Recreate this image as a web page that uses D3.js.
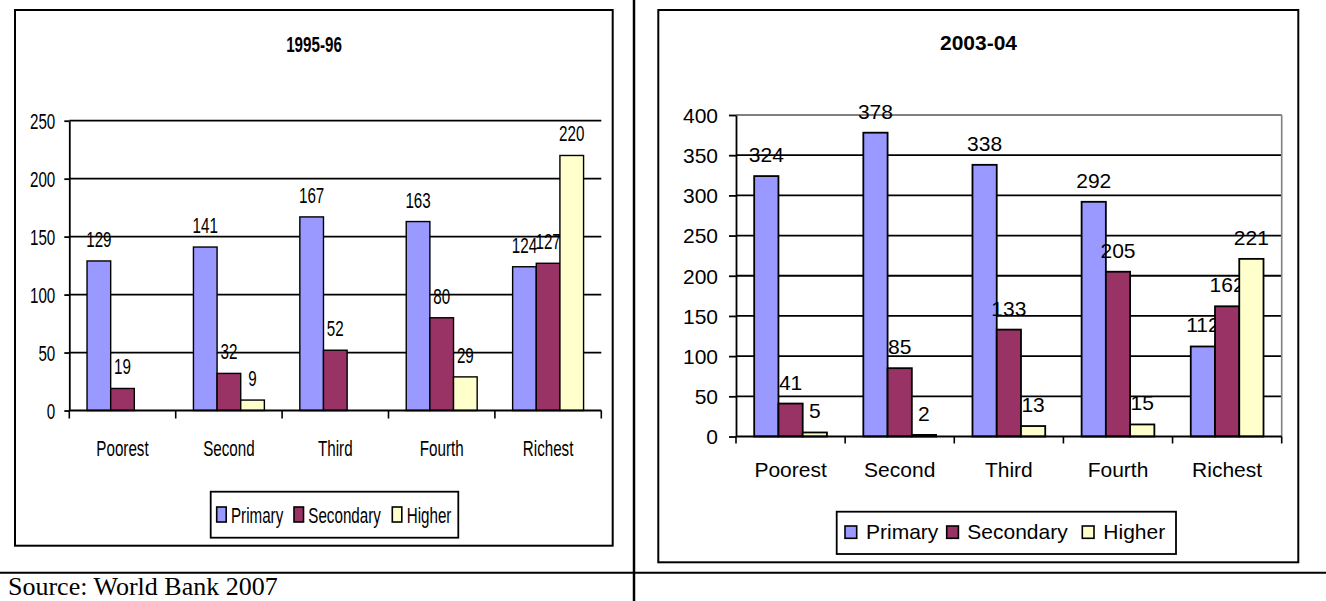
<!DOCTYPE html>
<html>
<head>
<meta charset="utf-8">
<script src="https://cdn.jsdelivr.net/npm/d3@7"></script>
<style>
  html, body { margin: 0; padding: 0; background: #fff; }
  svg { display: block; }
</style>
</head>
<body>
<svg id="chart" width="1326" height="601"></svg>
<script>
// ---------------- DATA ----------------
const categories = ["Poorest", "Second", "Third", "Fourth", "Richest"];
const seriesNames = ["Primary", "Secondary", "Higher"];
const seriesColors = ["#9999FF", "#993366", "#FFFFCC"];

const title9596 = "1995-96";
const primary9596 = [129, 141, 167, 163, 124];
const secondary9596 = [19, 32, 52, 80, 127];
const higher9596 = [null, 9, null, 29, 220];
const ticks9596 = [0, 50, 100, 150, 200, 250];

const title0304 = "2003-04";
const primary0304 = [324, 378, 338, 292, 112];
const secondary0304 = [41, 85, 133, 205, 162];
const higher0304 = [5, 2, 13, 15, 221];
const ticks0304 = [0, 50, 100, 150, 200, 250, 300, 350, 400];

const sourceText = "Source: World Bank 2007";

// ---------------- DRAW ----------------
const svg = d3.select("#chart");
const FONT = "'Liberation Sans', Arial, Helvetica, sans-serif";

// page table lines
svg.append("line").attr("x1", 634).attr("x2", 634).attr("y1", 0).attr("y2", 601)
  .attr("stroke", "#000").attr("stroke-width", 2.5);
svg.append("line").attr("x1", 0).attr("x2", 1326).attr("y1", 572.7).attr("y2", 572.7)
  .attr("stroke", "#000").attr("stroke-width", 2);
svg.append("text").attr("x", 8).attr("y", 595)
  .attr("font-family", "'Liberation Serif', 'Times New Roman', serif")
  .attr("font-size", 26).attr("fill", "#000").text(sourceText);

function drawChart(cfg) {
  const g = svg.append("g");
  const sx = cfg.sx;
  const txt = (sel, x, y) => sel.attr("transform", `translate(${x},${y}) scale(${sx},1)`);

  // frame
  g.append("rect").attr("x", cfg.frame[0]).attr("y", cfg.frame[1])
    .attr("width", cfg.frame[2] - cfg.frame[0]).attr("height", cfg.frame[3] - cfg.frame[1])
    .attr("fill", "#fff").attr("stroke", "#000").attr("stroke-width", 2);

  // title
  txt(g.append("text"), cfg.titleX, cfg.titleY)
    .attr("text-anchor", "middle").attr("font-family", FONT).attr("font-weight", "bold")
    .attr("font-size", cfg.font).text(cfg.title);

  const x = d3.scaleBand().domain(cfg.categories).range([cfg.px0, cfg.px1]).paddingInner(0).paddingOuter(0);
  const y = d3.scaleLinear().domain([0, cfg.ticks[cfg.ticks.length - 1]]).range([cfg.py0, cfg.py1]);
  const barW = x.bandwidth() / 4.5;
  const off = (x.bandwidth() - 3 * barW) / 2;

  // gridlines
  g.append("g").selectAll("line").data(cfg.ticks.filter(t => t > 0)).join("line")
    .attr("x1", cfg.px0).attr("x2", cfg.px1)
    .attr("y1", d => y(d)).attr("y2", d => y(d))
    .attr("stroke", d => (cfg.plotBorder && d === cfg.ticks[cfg.ticks.length - 1]) ? "#808080" : "#000")
    .attr("stroke-width", 1.8);
  if (cfg.plotBorder) {
    g.append("line").attr("x1", cfg.px1).attr("x2", cfg.px1).attr("y1", cfg.py1).attr("y2", cfg.py0)
      .attr("stroke", "#808080").attr("stroke-width", 1.6);
  }

  // bars
  const series = cfg.series;
  series.forEach((vals, si) => {
    const data = vals.map((v, i) => ({ c: cfg.categories[i], v })).filter(d => d.v !== null);
    g.append("g").selectAll("rect").data(data).join("rect")
      .attr("x", d => x(d.c) + off + si * barW)
      .attr("y", d => y(d.v))
      .attr("width", barW)
      .attr("height", d => y(0) - y(d.v))
      .attr("fill", seriesColors[si]).attr("stroke", "#000").attr("stroke-width", cfg.barStroke);
    g.append("g").selectAll("text").data(data).join("text")
      .each(function (d) {
        txt(d3.select(this), x(d.c) + off + si * barW + barW / 2, y(d.v) - cfg.labelGap);
      })
      .attr("text-anchor", "middle").attr("font-family", FONT).attr("font-size", cfg.font)
      .attr("fill", "#000").text(d => d.v);
  });

  // y axis
  const yAxis = g.append("g").attr("transform", `translate(${cfg.px0},0)`)
    .call(d3.axisLeft(y).tickValues(cfg.ticks).tickSizeInner(cfg.tickLen).tickSizeOuter(0).tickPadding(cfg.yPad));
  yAxis.select(".domain").attr("stroke", "#000").attr("stroke-width", 1.8);
  yAxis.selectAll(".tick line").attr("stroke", "#000").attr("stroke-width", 1.8);
  yAxis.selectAll(".tick text").each(function () {
    const t = d3.select(this);
    const xx = +t.attr("x");
    t.attr("x", 0).attr("transform", `translate(${xx},0) scale(${sx},1)`);
  }).attr("font-family", FONT).attr("font-size", cfg.font).attr("fill", "#000").attr("dy", "0.35em");

  // x axis line
  g.append("line").attr("x1", cfg.px0).attr("x2", cfg.px1).attr("y1", y(0)).attr("y2", y(0))
    .attr("stroke", "#000").attr("stroke-width", 1.8);
  // boundary ticks
  const bounds = d3.range(cfg.categories.length + 1).map(i => cfg.px0 + i * x.step());
  g.append("g").selectAll("line").data(bounds).join("line")
    .attr("x1", d => d).attr("x2", d => d).attr("y1", y(0)).attr("y2", y(0) + cfg.xTickLen)
    .attr("stroke", "#000").attr("stroke-width", 1.6);
  // category labels
  g.append("g").selectAll("text").data(cfg.categories).join("text")
    .each(function (d) { txt(d3.select(this), x(d) + x.bandwidth() / 2, cfg.xLabelY); })
    .attr("text-anchor", "middle").attr("font-family", FONT).attr("font-size", cfg.font)
    .attr("fill", "#000").text(d => d);

  // legend
  const L = cfg.legend;
  g.append("rect").attr("x", L.box[0]).attr("y", L.box[1])
    .attr("width", L.box[2] - L.box[0]).attr("height", L.box[3] - L.box[1])
    .attr("fill", "#fff").attr("stroke", "#000").attr("stroke-width", 1.8);
  seriesNames.forEach((name, i) => {
    g.append("rect").attr("x", L.swX[i]).attr("y", L.swY).attr("width", L.swW).attr("height", L.swH)
      .attr("fill", seriesColors[i]).attr("stroke", "#000").attr("stroke-width", 1.6);
    txt(g.append("text"), L.txX[i], L.txY)
      .attr("font-family", FONT).attr("font-size", cfg.font).attr("fill", "#000").text(name);
  });
}

drawChart({
  title: title9596, categories, series: [primary9596, secondary9596, higher9596], ticks: ticks9596,
  sx: 0.69, font: 22,
  frame: [15, 10, 612.7, 545.7],
  titleX: 314, titleY: 52,
  px0: 69.3, px1: 601.3, py0: 410.5, py1: 120.7,
  tickLen: 5, yPad: 9, xTickLen: 8, xLabelY: 456,
  labelGap: 14, barStroke: 1.4, plotBorder: false,
  legend: { box: [210.7, 491.7, 458.3, 537.7], swX: [216.7, 294, 392.3], swY: 507, swW: 9.5, swH: 15,
            txX: [231, 308.3, 406.7], txY: 523 }
});

drawChart({
  title: title0304, categories, series: [primary0304, secondary0304, higher0304], ticks: ticks0304,
  sx: 1, font: 21,
  frame: [658.3, 10, 1298.3, 562.3],
  titleX: 978.5, titleY: 50,
  px0: 736, px1: 1281.7, py0: 436.5, py1: 115,
  tickLen: 7, yPad: 11, xTickLen: 7, xLabelY: 476.7,
  labelGap: 14, barStroke: 1.8, plotBorder: true,
  legend: { box: [836.7, 511.7, 1176, 554], swX: [845, 946.7, 1082.3], swY: 526, swW: 11.7, swH: 12.3,
            txX: [866, 967.3, 1103.3], txY: 539 }
});
</script>
</body>
</html>
